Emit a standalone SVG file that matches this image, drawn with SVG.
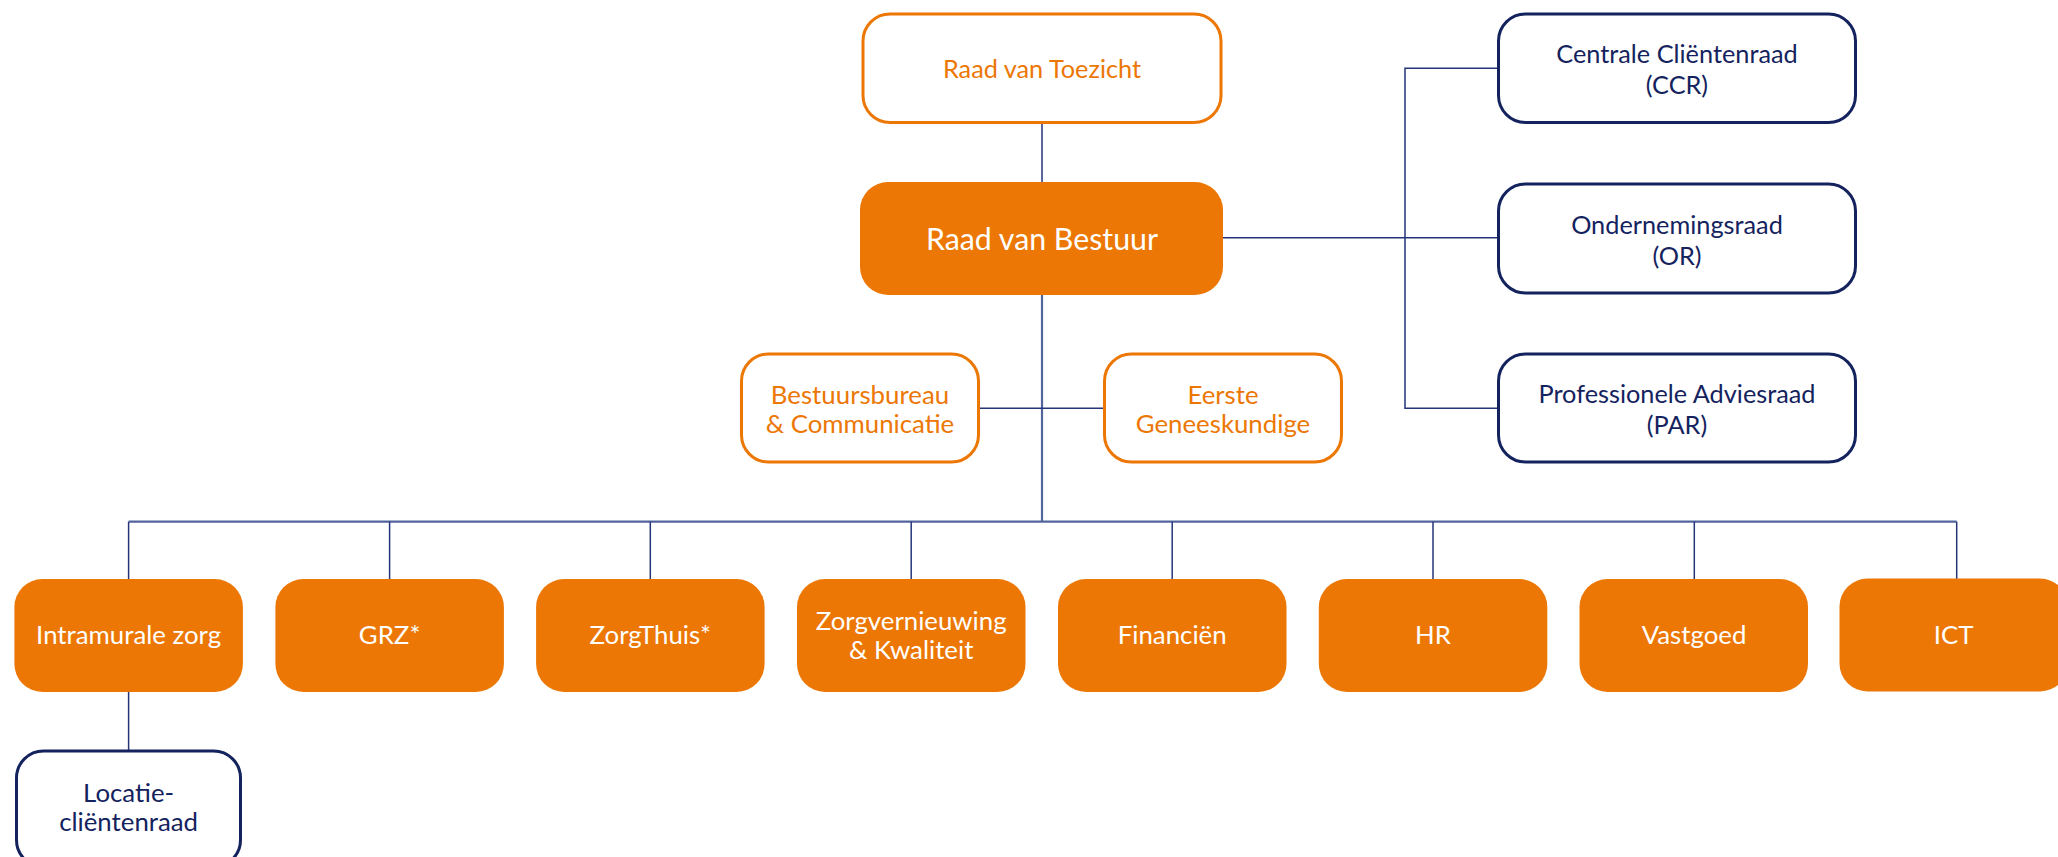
<svg xmlns="http://www.w3.org/2000/svg" width="2058" height="857" viewBox="0 0 2058 857">
<style>
.t{font-family:Lato,"Open Sans","Liberation Sans",sans-serif;font-size:25.3px;text-anchor:middle}
.md{font-size:25.8px}
.sm{font-size:25.8px}
.big{font-size:30.3px}
.ow{fill:#ffffff;stroke:#EC7704;stroke-width:3}
.nw{fill:#ffffff;stroke:#14235E;stroke-width:3}
.of{fill:#EC7704}
.to{fill:#EC7704}
.tn{fill:#14235E}
.tw{fill:#ffffff}
.c{stroke:#25357a;stroke-width:1.5;fill:none}
.cb{stroke:#52649c;stroke-width:2.2;fill:none}
</style>
<rect width="2058" height="857" fill="#ffffff"/>
<g id="connectors">
<line class="c" x1="1042" y1="124" x2="1042" y2="182"/>
<line class="cb" x1="1042" y1="295" x2="1042" y2="521.7"/>
<line class="c" x1="979" y1="408.3" x2="1103" y2="408.3"/>
<line class="cb" x1="128.6" y1="521.7" x2="1956.7" y2="521.7"/>
<line class="c" x1="128.6" y1="521.7" x2="128.6" y2="579"/>
<line class="c" x1="389.6" y1="521.7" x2="389.6" y2="579"/>
<line class="c" x1="650.3" y1="521.7" x2="650.3" y2="579"/>
<line class="c" x1="911.2" y1="521.7" x2="911.2" y2="579"/>
<line class="c" x1="1172.2" y1="521.7" x2="1172.2" y2="579"/>
<line class="c" x1="1433" y1="521.7" x2="1433" y2="579"/>
<line class="c" x1="1694.3" y1="521.7" x2="1694.3" y2="579"/>
<line class="c" x1="1956.7" y1="521.7" x2="1956.7" y2="579"/>
<line class="c" x1="1223" y1="237.7" x2="1497" y2="237.7"/>
<polyline class="c" points="1497,68.3 1405,68.3 1405,408.3 1497,408.3"/>
<line class="c" x1="128.6" y1="692" x2="128.6" y2="750"/>
</g>
<g id="rvt"><rect class="ow" x="863" y="14" width="358" height="108.5" rx="27"/><text class="t to" x="1042" y="78">Raad van Toezicht</text></g>
<g id="rvb"><rect class="of" x="860" y="182" width="363" height="113" rx="28"/><text class="t big tw" x="1042" y="250">Raad van Bestuur</text></g>
<g id="ccr"><rect class="nw" x="1498.5" y="14" width="357" height="108.5" rx="27"/><text class="t tn" x="1677" y="63.3">Centrale Cliëntenraad</text><text class="t tn" x="1677" y="94.3">(CCR)</text></g>
<g id="or"><rect class="nw" x="1498.5" y="184" width="357" height="109" rx="27"/><text class="t tn" x="1677" y="234.3">Ondernemingsraad</text><text class="t tn" x="1677" y="265">(OR)</text></g>
<g id="par"><rect class="nw" x="1498.5" y="354" width="357" height="108" rx="27"/><text class="t tn" x="1677" y="403.3">Professionele Adviesraad</text><text class="t tn" x="1677" y="434">(PAR)</text></g>
<g id="bestuursbureau"><rect class="ow" x="741.5" y="354" width="237" height="108" rx="27"/><text class="t md to" x="860" y="404">Bestuursbureau</text><text class="t md to" x="860" y="433">&amp; Communicatie</text></g>
<g id="eerste"><rect class="ow" x="1104.5" y="354" width="237" height="108" rx="27"/><text class="t md to" x="1223" y="404">Eerste</text><text class="t md to" x="1223" y="433">Geneeskundige</text></g>
<g id="intramurale"><rect class="of" x="14.4" y="579" width="228.5" height="113" rx="28"/><text class="t sm tw" x="128.6" y="644">Intramurale zorg</text></g>
<g id="grz"><rect class="of" x="275.4" y="579" width="228.5" height="113" rx="28"/><text class="t sm tw" x="389.6" y="644">GRZ*</text></g>
<g id="zorgthuis"><rect class="of" x="536.1" y="579" width="228.5" height="113" rx="28"/><text class="t sm tw" x="650.3" y="644">ZorgThuis*</text></g>
<g id="zorgvernieuwing"><rect class="of" x="797" y="579" width="228.5" height="113" rx="28"/><text class="t sm tw" x="911.2" y="630">Zorgvernieuwing</text><text class="t sm tw" x="911.2" y="659">&amp; Kwaliteit</text></g>
<g id="financien"><rect class="of" x="1058" y="579" width="228.5" height="113" rx="28"/><text class="t sm tw" x="1172.2" y="644">Financiën</text></g>
<g id="hr"><rect class="of" x="1318.8" y="579" width="228.5" height="113" rx="28"/><text class="t sm tw" x="1433" y="644">HR</text></g>
<g id="vastgoed"><rect class="of" x="1579.5" y="579" width="228.5" height="113" rx="28"/><text class="t sm tw" x="1694" y="644">Vastgoed</text></g>
<g id="ict"><rect class="of" x="1839.5" y="578.5" width="228.5" height="113" rx="28"/><text class="t sm tw" x="1953.7" y="644">ICT</text></g>
<g id="locatie"><rect class="nw" x="16.5" y="751" width="224" height="116" rx="27"/><text class="t sm tn" x="128.6" y="801.7">Locatie-</text><text class="t sm tn" x="128.6" y="830.7">cliëntenraad</text></g>
</svg>
